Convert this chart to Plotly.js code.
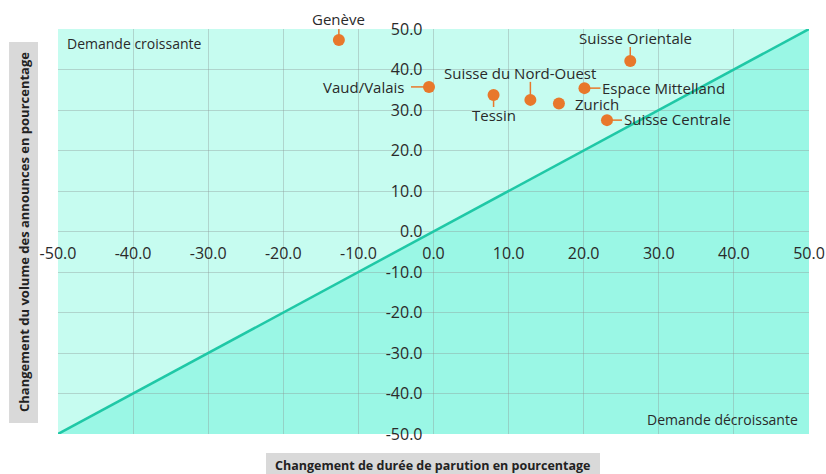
<!DOCTYPE html>
<html>
<head>
<meta charset="utf-8">
<script src="https://cdn.plot.ly/plotly-3.0.1.min.js"></script>
<style>html,body{margin:0;padding:0;background:#fff;}#chart{width:826px;height:474px;}</style>
</head>
<body>
<div id="chart"></div>
<script>
// Data
const regions = ["Genève", "Vaud/Valais", "Tessin", "Suisse du Nord-Ouest", "Zurich", "Espace Mittelland", "Suisse Orientale", "Suisse Centrale"];
const dureeChange = [-12.6, -0.6, 8.0, 12.9, 16.7, 20.1, 26.2, 23.1];
const volumeChange = [47.3, 35.7, 33.7, 32.5, 31.6, 35.4, 42.1, 27.5];
const diagX = [-50, 50];
const diagY = [-50, 50];
const tickVals = [-50, -40, -30, -20, -10, 0, 10, 20, 30, 40, 50];
const tickLabels = ["-50.0", "-40.0", "-30.0", "-20.0", "-10.0", "0.0", "10.0", "20.0", "30.0", "40.0", "50.0"];

// label placement (pixel offsets)
const labelPos = {
  "Genève": {dx: 0, dy: 21, xa: "center", line: [0, 0, 0, 13]},
  "Vaud/Valais": {dx: -22, dy: 0, xa: "right", line: [-18, 0, 0, 0]},
  "Tessin": {dx: 0, dy: -20, xa: "center", line: [0, 0, 0, -12]},
  "Suisse du Nord-Ouest": {dx: -10, dy: 27, xa: "center", line: [0, 0, 0, 18]},
  "Zurich": {dx: 14, dy: 0, xa: "left", line: null},
  "Espace Mittelland": {dx: 16, dy: 0, xa: "left", line: [0, 0, 16, 0]},
  "Suisse Orientale": {dx: 5, dy: 23, xa: "center", line: [0, 0, 0, 14]},
  "Suisse Centrale": {dx: 15, dy: 1, xa: "left", line: [0, 0, 15, 0]}
};

const orange = "#e8782b";
const font = "'Open Sans', Lato, sans-serif";
const textCol = "#2a2a2a";

const traces = [
  {x: diagX, y: diagY, mode: "lines", line: {color: "#1fc8a6", width: 2.5}, hoverinfo: "skip", showlegend: false},
  {x: dureeChange, y: volumeChange, mode: "markers", marker: {color: orange, size: 12}, hoverinfo: "skip", showlegend: false}
];

const shapes = [
  {type: "path", xref: "x", yref: "y", layer: "below",
   path: `M ${diagX[0]},${diagY[0]} L ${diagX[1]},${diagY[1]} L ${diagX[1]},${diagY[0]} Z`,
   fillcolor: "#9af7e5", line: {width: 0}},
  {type: "rect", xref: "paper", yref: "paper", x0: -0.0652, x1: -0.0266, y0: 0.027, y1: 0.968, fillcolor: "#d9d9d9", line: {width: 0}, layer: "below"},
  {type: "rect", xref: "paper", yref: "paper", x0: 0.277, x1: 0.7217, y0: -0.12, y1: -0.0469, fillcolor: "#d9d9d9", line: {width: 0}, layer: "below"}
];

const annotations = [];
regions.forEach((r, i) => {
  const p = labelPos[r];
  annotations.push({x: dureeChange[i], y: volumeChange[i], xref: "x", yref: "y", text: r, showarrow: false,
    xanchor: p.xa, yanchor: "middle", xshift: p.dx, yshift: p.dy,
    font: {family: font, size: 15, color: textCol}});
  if (p.line) {
    shapes.push({type: "line", xref: "x", yref: "y", xsizemode: "pixel", ysizemode: "pixel",
      xanchor: dureeChange[i], yanchor: volumeChange[i],
      x0: p.line[0], y0: p.line[1], x1: p.line[2], y1: p.line[3],
      line: {color: orange, width: 1.5}});
  }
});

annotations.push(
  {xref: "paper", yref: "paper", x: 0.0093, y: 0.9654, xanchor: "left", yanchor: "middle", text: "Demande croissante", showarrow: false, font: {family: font, size: 14, color: textCol}},
  {xref: "paper", yref: "paper", x: 0.988, y: 0.0346, xanchor: "right", yanchor: "middle", text: "Demande décroissante", showarrow: false, font: {family: font, size: 14, color: textCol}},
  {xref: "paper", yref: "paper", x: -0.0453, y: 0.4988, xanchor: "center", yanchor: "middle", textangle: -90, text: "<b>Changement du volume des announces en pourcentage</b>", showarrow: false, font: {family: font, size: 13, color: "#222"}},
  {xref: "paper", yref: "paper", x: 0.4993, y: -0.079, xanchor: "center", yanchor: "middle", text: "<b>Changement de durée de parution en pourcentage</b>", showarrow: false, font: {family: font, size: 12.5, color: "#222"}}
);

const axisCommon = {
  range: [-50, 50], tickmode: "array", tickvals: tickVals, ticktext: tickLabels, showgrid: true,
  gridcolor: "rgba(140,150,148,0.38)", gridwidth: 1, zeroline: false, showline: false,
  ticks: "", tickfont: {family: font, size: 16, color: textCol}, fixedrange: true
};

const layout = {
  width: 826, height: 474,
  margin: {l: 58, r: 17, t: 29, b: 40},
  paper_bgcolor: "#ffffff", plot_bgcolor: "#c6fcf0",
  xaxis: Object.assign({}, axisCommon, {anchor: "free", position: 0.5, ticklabelstandoff: 10}),
  yaxis: Object.assign({}, axisCommon, {anchor: "free", position: 0.5, ticklabelstandoff: 11}),
  shapes: shapes, annotations: annotations, showlegend: false
};

Plotly.newPlot("chart", traces, layout, {displayModeBar: false, staticPlot: true});
</script>
</body>
</html>
